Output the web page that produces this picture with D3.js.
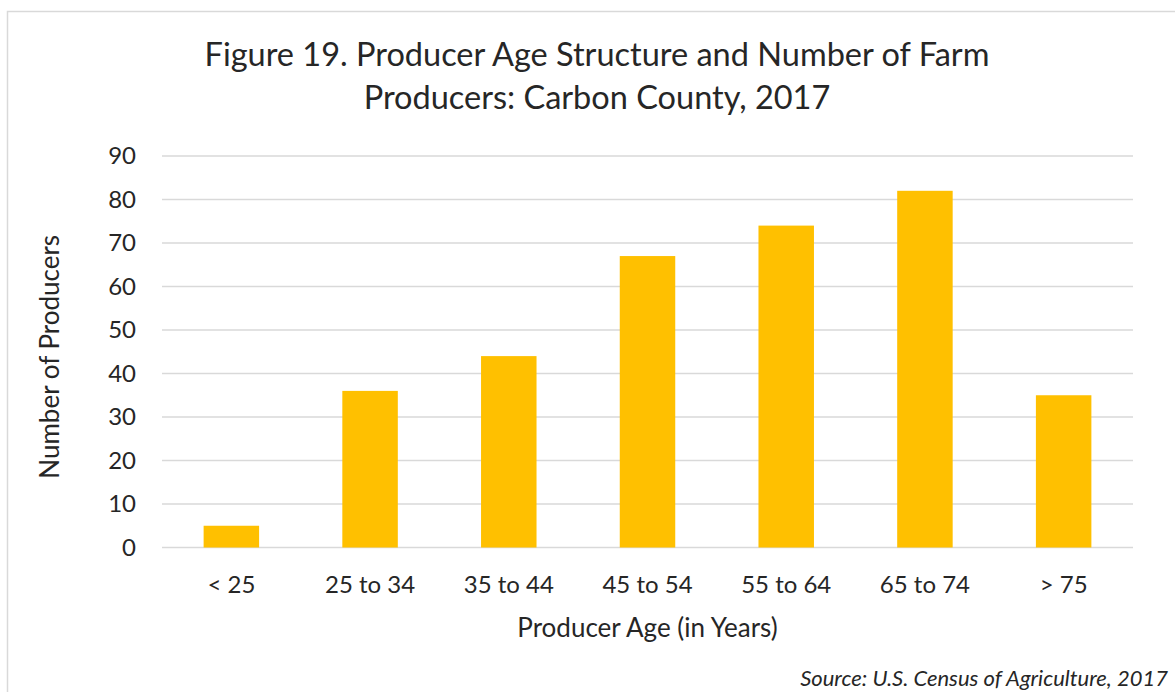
<!DOCTYPE html>
<html><head><meta charset="utf-8">
<script src="https://cdn.jsdelivr.net/npm/d3@7"></script>
<style>body{margin:0;background:#fff}text{font-family:Lato,"Open Sans",sans-serif;fill:#262626}</style>
</head><body><svg id="c" width="1175" height="692"></svg>
<script>
const categories = ["< 25","25 to 34","35 to 44","45 to 54","55 to 64","65 to 74","> 75"];
const values = [5,36,44,67,74,82,35];
const yTicks = [0,10,20,30,40,50,60,70,80,90];
const titleLines = ["Figure 19. Producer Age Structure and Number of Farm","Producers: Carbon County, 2017"];
const svg = d3.select("#c");
svg.append("rect").attr("x",7.5).attr("y",11.5).attr("width",1180).attr("height",700).attr("fill","#fff").attr("stroke","#d9d9d9").attr("stroke-width",1.5);
const L=162,R=1133,T=156,B=547.5;
const x = d3.scaleBand().domain(categories).range([L,R]).paddingInner(0.6).paddingOuter(0.3);
const y = d3.scaleLinear().domain([0,90]).range([B,T]);
svg.append("g").selectAll("line").data(yTicks).join("line")
  .attr("x1",L).attr("x2",R).attr("y1",d=>y(d)).attr("y2",d=>y(d)).attr("stroke","#d9d9d9").attr("stroke-width",1.5);
svg.append("g").selectAll("rect").data(values).join("rect")
  .attr("x",(d,i)=>x(categories[i])).attr("width",x.bandwidth())
  .attr("y",d=>y(d)).attr("height",d=>B-y(d)).attr("fill","#FFC000");
const ya = svg.append("g").attr("transform",`translate(${L},0)`).call(d3.axisLeft(y).tickValues(yTicks).tickSize(0).tickPadding(26));
ya.select(".domain").remove();
ya.selectAll("text").attr("font-size",24).attr("font-family","Lato").attr("fill","#262626");
const xa = svg.append("g").attr("transform",`translate(0,${B})`).call(d3.axisBottom(x).tickSize(0).tickPadding(28));
xa.select(".domain").remove();
xa.selectAll("text").attr("font-size",24).attr("font-family","Lato").attr("fill","#262626");
svg.selectAll(".title").data(titleLines).join("text").attr("x",597).attr("y",(d,i)=>66+i*43)
  .attr("text-anchor","middle").attr("font-size",32.5).text(d=>d);
svg.append("text").attr("x",(L+R)/2).attr("y",637).attr("text-anchor","middle").attr("font-size",26).text("Producer Age (in Years)");
svg.append("text").attr("transform",`translate(59,${(T+B)/2+5}) rotate(-90)`).attr("text-anchor","middle").attr("font-size",26).text("Number of Producers");
svg.append("text").attr("x",1168).attr("y",686).attr("text-anchor","end").attr("font-size",22).attr("font-style","italic").text("Source: U.S. Census of Agriculture, 2017");
</script></body></html>
